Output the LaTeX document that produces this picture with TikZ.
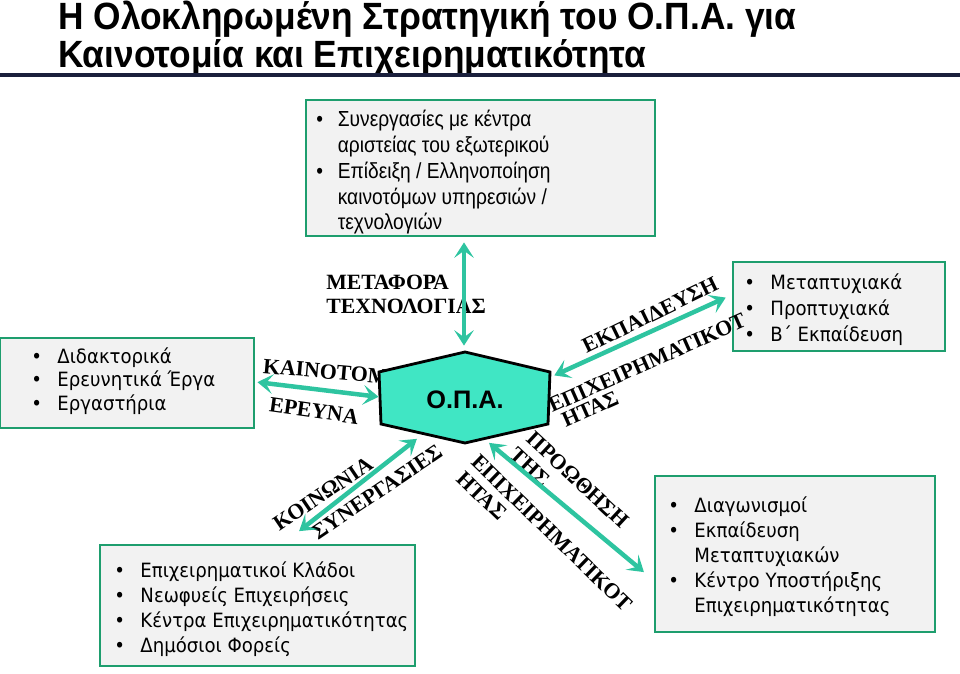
\documentclass[tikz,border=0pt]{standalone}
\usepackage{fontspec}
\setmainfont{DejaVu Sans}
\newfontfamily\titlefont{Liberation Sans}
\newfontfamily\labelfont{Liberation Serif}
\usetikzlibrary{arrows.meta}
\definecolor{boxgreen}{HTML}{1E9E6E}
\definecolor{boxgray}{HTML}{F2F2F2}
\definecolor{arrowteal}{HTML}{2EC4A0}
\definecolor{hexfill}{HTML}{40E6C4}
\definecolor{navy}{HTML}{1A1F3C}
\newcommand{\bul}{\textbullet}

\tikzset{
    boxframe/.style={draw=boxgreen, line width=1.8pt, fill=boxgray},
    boxtext/.style={anchor=north west, inner sep=0pt, align=left, font=\fontsize{14}{17.7}\selectfont},
    linkarrow/.style={draw=arrowteal, line width=3.2pt, {Stealth[length=11pt,width=14pt,inset=5pt]}-{Stealth[length=11pt,width=14pt,inset=5pt]}, shorten <=1pt, shorten >=1pt},
    linklabel/.style={font=\labelfont\bfseries\fontsize{15.5}{16}\selectfont, inner sep=0pt}
}

\begin{document}
\begin{tikzpicture}[x=0.025cm, y=-0.025cm]
        \useasboundingbox (0,0) rectangle (960,674);

        % title
        \node[anchor=north west, align=left, inner sep=0pt, font=\titlefont\bfseries\fontsize{27}{27}\selectfont] (title) at (58,1)
            {\scalebox{0.93}[1]{Η Ολοκληρωμένη Στρατηγική του Ο.Π.Α. για}\\\scalebox{0.93}[1]{Καινοτομία και Επιχειρηματικότητα}};
        \draw[navy, line width=2.2pt] (0,75) -- (960,75);

        % boxes
        \path[boxframe] (306,100) rectangle (655,236);
        \node[anchor=north west, inner sep=0pt, align=left, font=\titlefont\fontsize{15.5}{18.4}\selectfont] (toptext) at (316,108)
            {\scalebox{0.88}[1]{\begin{tabular}{@{}l@{\hspace{12pt}}l@{}}
            \bul & Συνεργασίες με κέντρα\\ & αριστείας του εξωτερικού\\
            \bul & Επίδειξη / Ελληνοποίηση\\ & καινοτόμων υπηρεσιών /\\ & τεχνολογιών\end{tabular}}};

        \path[boxframe] (0,338) rectangle (254,428);
        \node[boxtext, font=\fontsize{14}{17}\selectfont] (lefttext) at (31,346)
            {\scalebox{0.92}[1]{\begin{tabular}{@{}l@{\hspace{12pt}}l@{}}
            \bul & Διδακτορικά\\ \bul & Ερευνητικά Έργα\\ \bul & Εργαστήρια\end{tabular}}};

        \path[boxframe] (733,262) rectangle (945,351);
        \node[boxtext, font=\fontsize{14}{18.4}\selectfont] (righttext) at (744,271)
            {\scalebox{0.92}[1]{\begin{tabular}{@{}l@{\hspace{12pt}}l@{}}
            \bul & Μεταπτυχιακά\\ \bul & Προπτυχιακά\\ \bul & Β΄ Εκπαίδευση\end{tabular}}};

        \path[boxframe] (100,545) rectangle (415,666);
        \node[boxtext] (bltext) at (114,560)
            {\scalebox{0.92}[1]{\begin{tabular}{@{}l@{\hspace{12pt}}l@{}}
            \bul & Επιχειρηματικοί Κλάδοι\\ \bul & Νεωφυείς Επιχειρήσεις\\
            \bul & Κέντρα Επιχειρηματικότητας\\ \bul & Δημόσιοι Φορείς\end{tabular}}};

        \path[boxframe] (655,476) rectangle (935,632);
        \node[boxtext] (brtext) at (668,495)
            {\scalebox{0.92}[1]{\begin{tabular}{@{}l@{\hspace{12pt}}l@{}}
            \bul & Διαγωνισμοί\\ \bul & Εκπαίδευση\\ & Μεταπτυχιακών\\
            \bul & Κέντρο Υποστήριξης\\ & Επιχειρηματικότητας\end{tabular}}};

        % arrow ends
        \coordinate (upA) at (464,241);   \coordinate (upB) at (464,347);
        \coordinate (lfA) at (256,382);   \coordinate (lfB) at (380,397);
        \coordinate (urA) at (727,297);   \coordinate (urB) at (553,376);
        \coordinate (llA) at (298,532);   \coordinate (llB) at (418,438);
        \coordinate (lrA) at (645,573);   \coordinate (lrB) at (488,442);

        % labels
        \node[linklabel, anchor=west, align=left] (metafora) at (326,294) {ΜΕΤΑΦΟΡΑ\\[1pt]ΤΕΧΝΟΛΟΓΙΑΣ};
        \node[linklabel, rotate=-5, anchor=west] (kainotomia) at (263,366) {ΚΑΙΝΟΤΟΜΙΑ};
        \node[linklabel, rotate=-8] (ereyna) at (314,411) {ΕΡΕΥΝΑ};
        \node[linklabel, rotate=26] (ekpaideysi) at (650,315) {ΕΚΠΑΙΔΕΥΣΗ};
        \node[linklabel, rotate=24] (epix1) at (647,363) {ΕΠΙΧΕΙΡΗΜΑΤΙΚΟΤ};
        \node[linklabel, rotate=24] (htas1) at (590,409) {ΗΤΑΣ};
        \node[linklabel, rotate=34] (koinonia) at (323,494) {ΚΟΙΝΩΝΙΑ};
        \node[linklabel, rotate=34] (synerg) at (377,492) {ΣΥΝΕΡΓΑΣΙΕΣ};
        \node[linklabel, rotate=-43] (proothisi) at (578,480) {ΠΡΟΩΘΗΣΗ};
        \node[linklabel, rotate=-43] (tis) at (530,467) {ΤΗΣ};
        \node[linklabel, rotate=-44] (epix2) at (552,533) {ΕΠΙΧΕΙΡΗΜΑΤΙΚΟΤ};
        \node[linklabel, rotate=-44] (htas2) at (482,496) {ΗΤΑΣ};

        % centre
        \draw[black, line width=2pt, fill=hexfill] (465,352) -- (550,372) -- (548,424) -- (465,443) -- (381,424) -- (379,372) -- cycle;
        \node[font=\titlefont\bfseries\fontsize{18}{20}\selectfont] (opa) at (465,400) {Ο.Π.Α.};

        % arrows
        \draw[linkarrow] (upA) -- (upB);
        \draw[linkarrow] (lfA) -- (lfB);
        \draw[linkarrow] (urA) -- (urB);
        \draw[linkarrow] (llA) -- (llB);
        \draw[linkarrow] (lrA) -- (lrB);
    \end{tikzpicture}
\end{document}
